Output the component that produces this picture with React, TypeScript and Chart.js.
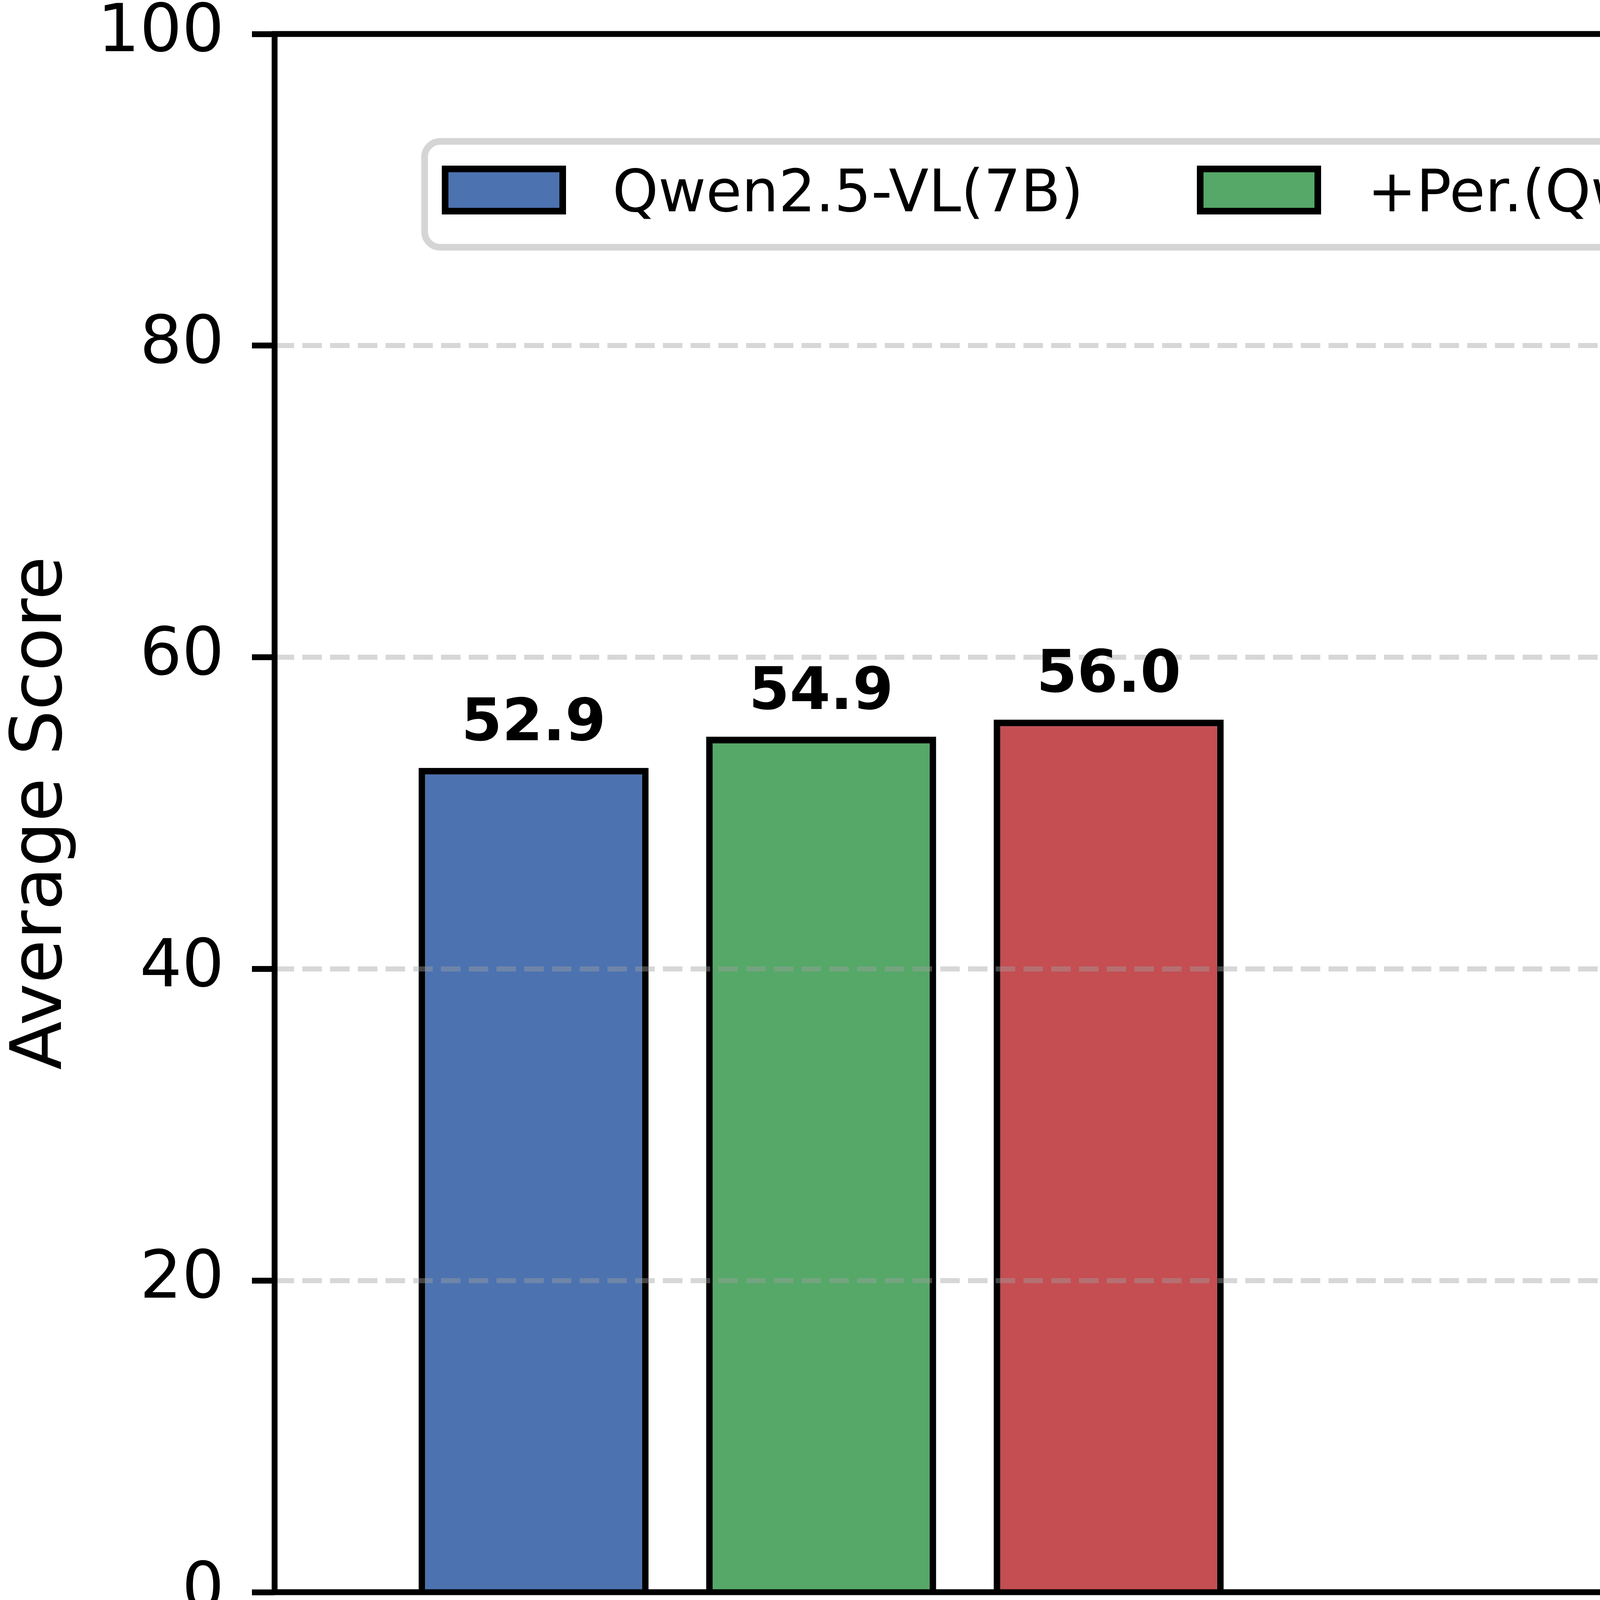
import { useEffect, useRef } from "react";
import { Chart, registerables } from "chart.js";

Chart.register(...registerables);

// ---- data ----
const categories = ["Video + Text", "Text"];
const seriesNames = ["Qwen2.5-VL(7B)", "+Per.(Qwen)", "+Per.(VideoP2R)"];
const qwenValues = [52.9, 35.1];
const perQwenValues = [54.9, 48.6];
const perVideoP2RValues = [56.0, 55.5];
const seriesColors = ["#4C72B0", "#55A868", "#C44E52"];
const yTicks = [0, 20, 40, 60, 80, 100];
const yTitle = "Average Score";

const W = 6759;
const H = 4500;
const FONT = "'DejaVu Sans', sans-serif";

const seriesValues = [qwenValues, perQwenValues, perVideoP2RValues];

function roundRectPath(ctx: CanvasRenderingContext2D, x: number, y: number, w: number, h: number, r: number) {
  ctx.beginPath();
  ctx.moveTo(x + r, y);
  ctx.lineTo(x + w - r, y);
  ctx.arcTo(x + w, y, x + w, y + r, r);
  ctx.lineTo(x + w, y + h - r);
  ctx.arcTo(x + w, y + h, x + w - r, y + h, r);
  ctx.lineTo(x + r, y + h);
  ctx.arcTo(x, y + h, x, y + h - r, r);
  ctx.lineTo(x, y + r);
  ctx.arcTo(x, y, x + r, y, r);
  ctx.closePath();
}

const overlayPlugin = {
  id: "overlay",
  afterDraw(chart: any) {
    const { ctx, chartArea: a } = chart;
    ctx.save();

    // value labels
    ctx.font = `bold 150px ${FONT}`;
    ctx.textAlign = "center";
    ctx.textBaseline = "alphabetic";
    ctx.fillStyle = "#000";
    chart.data.datasets.forEach((ds: any, di: number) => {
      const meta = chart.getDatasetMeta(di);
      meta.data.forEach((el: any, i: number) => {
        const v = ds.data[i].y as number;
        ctx.fillText(v.toFixed(1), el.x, el.y - 71);
      });
    });

    // frame (all four spines)
    ctx.strokeStyle = "#000";
    ctx.lineWidth = 15;
    ctx.setLineDash([]);
    ctx.strokeRect(a.left, a.top, a.right - a.left, a.bottom - a.top);

    // legend
    const bx = a.left + 384;
    const by = a.top + 275;
    const bw = 5356;
    const bh = 271;
    roundRectPath(ctx, bx, by, bw, bh, 40);
    ctx.fillStyle = "#ffffff";
    ctx.fill();
    ctx.lineWidth = 17;
    ctx.strokeStyle = "#d5d5d5";
    ctx.stroke();

    const patchX = [44, 1977, 3642];
    const textX = [481, 2414, 4085];
    chart.data.datasets.forEach((ds: any, di: number) => {
      const px = bx + patchX[di] + 8.5;
      const py = by + 70.5;
      ctx.fillStyle = ds.backgroundColor;
      ctx.fillRect(px, py, 301, 108);
      ctx.lineWidth = 17;
      ctx.strokeStyle = "#000";
      ctx.strokeRect(px, py, 301, 108);
      ctx.fillStyle = "#000";
      ctx.font = `149px ${FONT}`;
      ctx.textAlign = "left";
      ctx.textBaseline = "alphabetic";
      ctx.fillText(ds.label, bx + textX[di], by + 179);
    });

    ctx.restore();
  },
};

export default function App() {
  const canvasRef = useRef<HTMLCanvasElement | null>(null);

  useEffect(() => {
    document.body.style.margin = "0";
    const canvas = canvasRef.current;
    if (!canvas) return;

    const chart = new Chart(canvas, {
      type: "bar",
      data: {
        datasets: seriesNames.map((name, s) => ({
          label: name,
          data: categories.map((_, i) => ({ x: i, y: seriesValues[s][i] })),
          backgroundColor: seriesColors[s],
          borderColor: "#000000",
          borderWidth: 17,
          categoryPercentage: 0.715,
          barPercentage: 0.8,
        })),
      },
      options: {
        responsive: false,
        animation: false,
        devicePixelRatio: 1,
        layout: { padding: { top: 87, right: 24, bottom: 0, left: 0 } },
        plugins: {
          legend: { display: false },
          tooltip: { enabled: false },
        },
        scales: {
          x: {
            type: "linear",
            min: -0.453,
            max: 1.5,
            offset: false,
            afterBuildTicks: (s: any) => {
              s.ticks = categories.map((_, i) => ({ value: i }));
            },
            afterFit: (s: any) => {
              s.height = 424;
              s.paddingLeft = 0;
              s.paddingRight = 0;
            },
            grid: { display: false, drawTicks: false, offset: false },
            border: { display: false },
            ticks: {
              autoSkip: false,
              maxRotation: 0,
              minRotation: 0,
              color: "#000",
              padding: 217,
              font: { family: FONT, size: 165, weight: "bold" },
              callback: (v: any) => categories[Math.round(Number(v))] ?? "",
            },
          },
          y: {
            type: "linear",
            min: 0,
            max: 100,
            afterBuildTicks: (s: any) => {
              s.ticks = yTicks.map((v) => ({ value: v }));
            },
            afterFit: (s: any) => {
              s.width = 703;
              s.paddingTop = 0;
              s.paddingBottom = 0;
            },
            grid: {
              z: 1,
              color: "rgba(160,160,160,0.42)",
              lineWidth: 13,
              drawTicks: true,
              tickLength: 58,
              tickColor: "#000",
              tickWidth: 15,
              tickBorderDash: [],
            },
            border: { display: false, dash: [50, 21] },
            ticks: {
              color: "#000",
              padding: 71,
              font: { family: FONT, size: 170 },
              callback: (v: any) => String(v),
            },
            title: {
              display: true,
              text: yTitle,
              color: "#000",
              font: { family: FONT, size: 182 },
              padding: { top: 0, bottom: 0 },
            },
          },
        },
      } as any,
      plugins: [overlayPlugin],
    });

    return () => chart.destroy();
  }, []);

  return (
    <div style={{ position: "absolute", left: 0, top: 0, width: W, height: H, background: "#fff" }}>
      <canvas ref={canvasRef} width={W} height={H} style={{ width: W, height: H, display: "block" }} />
    </div>
  );
}
